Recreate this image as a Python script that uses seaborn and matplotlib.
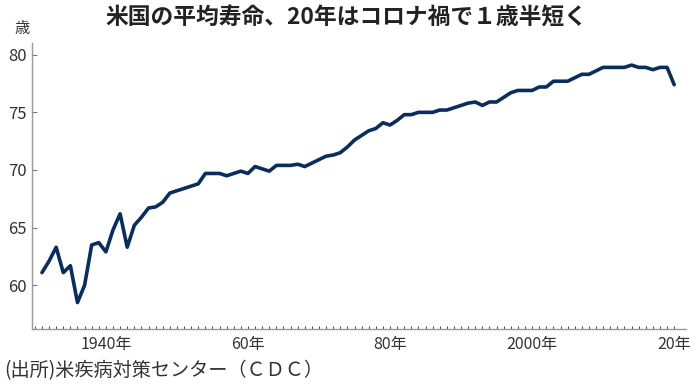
# 米国の平均寿命 (CDC) line chart

import numpy as np
import pandas as pd
import seaborn as sns
import matplotlib.pyplot as plt

sns.set_style("white")
plt.rcParams['font.family'] = ['Noto Sans CJK JP', 'DejaVu Sans']

# data
years = list(range(1931, 2021))
life_exp = [
    61.1, 62.1, 63.3, 61.1, 61.7, 58.5, 60.0, 63.5, 63.7, 62.9,   # 1931-1940
    64.8, 66.2, 63.3, 65.2, 65.9, 66.7, 66.8, 67.2, 68.0, 68.2,   # 1941-1950
    68.4, 68.6, 68.8, 69.7, 69.7, 69.7, 69.5, 69.7, 69.9, 69.7,   # 1951-1960
    70.3, 70.1, 69.9, 70.4, 70.4, 70.4, 70.5, 70.3, 70.6, 70.9,   # 1961-1970
    71.2, 71.3, 71.5, 72.0, 72.6, 73.0, 73.4, 73.6, 74.1, 73.9,   # 1971-1980
    74.3, 74.8, 74.8, 75.0, 75.0, 75.0, 75.2, 75.2, 75.4, 75.6,   # 1981-1990
    75.8, 75.9, 75.6, 75.9, 75.9, 76.3, 76.7, 76.9, 76.9, 76.9,   # 1991-2000
    77.2, 77.2, 77.7, 77.7, 77.7, 78.0, 78.3, 78.3, 78.6, 78.9,   # 2001-2010
    78.9, 78.9, 78.9, 79.1, 78.9, 78.9, 78.7, 78.9, 78.9, 77.4,   # 2011-2020
]
xtick_years = [1940, 1960, 1980, 2000, 2020]
xtick_labels = ['1940年', '60年', '80年', '2000年', '20年']
ytick_vals = [60, 65, 70, 75, 80]

title = '米国の平均寿命、20年はコロナ禍で１歳半短く'
unit = '歳'
source = '(出所)米疾病対策センター（ＣＤＣ）'

df = pd.DataFrame({'year': years, 'life': life_exp})

fig = plt.figure(figsize=(6.96, 3.89), dpi=100)
ax = fig.add_axes([0.046, 0.154, 0.94, 0.735])

sns.lineplot(data=df, x='year', y='life', ax=ax, color='#0b2d5e', linewidth=2.6)

ax.set_xlim(1929.6, 2021.7)
ax.set_ylim(56.2, 81.0)

ax.set_xticks(xtick_years)
ax.set_xticklabels(xtick_labels)
ax.set_xticks(range(1930, 2021), minor=True)
ax.set_yticks(ytick_vals)

ax.tick_params(axis='x', which='both', direction='in', length=2.2, width=0.8,
               color='#555555', labelsize=11.5, labelcolor='#333333', pad=5)
ax.tick_params(axis='y', direction='in', length=3.5, width=0.8,
               color='#777777', labelsize=12, labelcolor='#333333', pad=4)
ax.tick_params(left=True, bottom=True)
ax.tick_params(axis='x', which='minor', bottom=True)

for side in ['top', 'right']:
    ax.spines[side].set_visible(False)
for side in ['left', 'bottom']:
    ax.spines[side].set_color('#999999')
    ax.spines[side].set_linewidth(1.0)

ax.set_xlabel('')
ax.set_ylabel('')

fig.text(0.497, 0.953, title, ha='center', va='center', fontsize=16.4,
         fontweight='bold', color='#222222')
fig.text(0.032, 0.928, unit, ha='center', va='center', fontsize=11, color='#333333')
fig.text(0.006, 0.046, source, ha='left', va='center', fontsize=13.8, color='#333333')

fig.savefig('out.png', dpi=100)
